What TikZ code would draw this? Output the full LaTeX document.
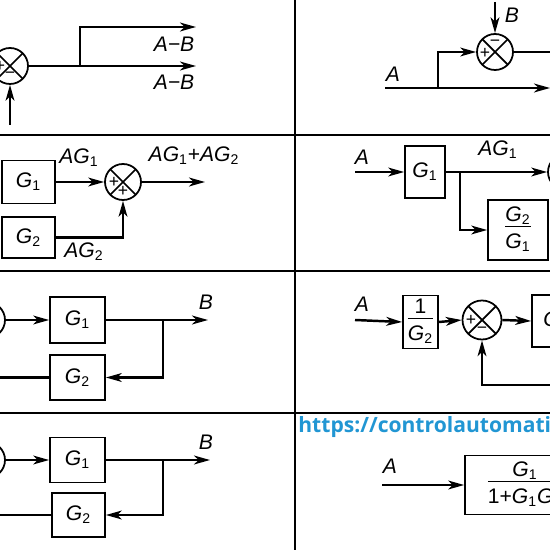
\documentclass[tikz,border=0pt]{standalone}
\usepackage{fontspec}
\setmainfont{Liberation Sans}
\newfontfamily\urlfont{Open Sans}
\usetikzlibrary{arrows.meta, positioning, calc}
\definecolor{URL_Blue}{HTML}{2196D3}

\newcommand{\Gs}[1]{\textit{G}\textsubscript{#1}}
\newcommand{\Ai}{\textit{A}}
\newcommand{\Bi}{\textit{B}}
\newcommand{\blkfrac}[2]{\begin{tabular}{@{}c@{}}#1\\[-1pt]\hline\rule{0pt}{12pt}#2\end{tabular}}

\tikzset{
  wire/.style={line width=1.4pt},
  sig/.style={wire, -{Stealth[length=9pt, width=5pt, inset=2.5pt]}},
  blockbox/.style={draw, line width=1pt, inner sep=1pt, font=\fontsize{12}{13}\selectfont},
  sumjunc/.style={draw, circle, line width=1pt, minimum size=0.72cm, inner sep=0pt,
    path picture={\draw[line width=1pt]
      (path picture bounding box.north west) -- (path picture bounding box.south east)
      (path picture bounding box.north east) -- (path picture bounding box.south west);}},
  lab/.style={font=\fontsize{12}{13}\selectfont, inner sep=1pt},
  sgn/.style={font=\fontsize{10}{10}\selectfont, inner sep=0pt},
  divider/.style={line width=1.1pt},
  urltext/.style={font=\fontsize{12}{14}\selectfont\urlfont\bfseries, text=URL_Blue, inner sep=0pt}
}

\begin{document}
\begin{tikzpicture}[x=0.02cm, y=-0.02cm]
    \useasboundingbox (0,0) rectangle (550,550);
    \clip (0,0) rectangle (550,550);

    % Panel borders
    \draw[divider] (295,0) -- (295,550);
    \draw[divider] (0,135) -- (550,135);
    \draw[divider] (0,271) -- (550,271);
    \draw[divider] (0,413) -- (550,413);

    % Take-off point after a summing point
    \node[sumjunc] (s1) at (10,66) {};
    \node[sgn] at ($(s1)+(-10,0)$) {+};
    \node[sgn] at ($(s1)+(0,9)$) {−};
    \coordinate (in1) at (10,125);
    \coordinate (b1) at (80,66);
    \coordinate (o1a) at (196,27);
    \coordinate (o1b) at (196,66);
    \draw[sig] (in1) -- (s1.south);
    \draw[wire] (s1.east) -- (b1);
    \draw[sig] (b1) -- (o1b);
    \draw[sig] (b1) |- (o1a);
    \node[lab] at (174,44) {\textit{A−B}};
    \node[lab] at (174,82) {\textit{A−B}};

    % Summing point moved after the take-off point
    \node[sumjunc] (s2) at (495,52) {};
    \node[sgn] at ($(s2)+(-10,1)$) {+};
    \node[sgn] at ($(s2)+(0,-9)$) {−};
    \coordinate (in2b) at (495,2);
    \coordinate (in2a) at (385,88);
    \coordinate (b2) at (438,88);
    \coordinate (o2a) at (550,88);
    \coordinate (o2b) at (550,52);
    \draw[sig] (in2b) -- (s2.north);
    \node[lab] at (512,15) {\Bi};
    \draw[sig] (in2a) -- (o2a);
    \draw[sig] (b2) |- (s2.west);
    \draw[wire] (s2.east) -- (o2b);
    \node[lab] at (393,74) {\Ai};

    % Parallel blocks
    \node[blockbox, minimum width=1.06cm, minimum height=0.86cm] (g31) at (28.5,182) {\Gs{1}};
    \node[blockbox, minimum width=1.06cm, minimum height=0.82cm] (g32) at (28.5,237.5) {\Gs{2}};
    \node[sumjunc] (s3) at (123,182) {};
    \node[sgn] at ($(s3)+(-9,0)$) {+};
    \node[sgn] at ($(s3)+(0,9)$) {+};
    \coordinate (o3) at (205,182);
    \draw[sig] (g31.east) -- (s3.west);
    \draw[sig] (g32.east) -| (s3.south);
    \draw[sig] (s3.east) -- (o3);
    \node[lab] at (79,158) {\textit{AG}\textsubscript{1}};
    \node[lab] at (84,252) {\textit{AG}\textsubscript{2}};
    \node[lab] at (194,156) {\textit{AG}\textsubscript{1}+\textit{AG}\textsubscript{2}};

    % Parallel blocks rearranged
    \coordinate (in4) at (355,172);
    \node[lab] at (362,157) {\Ai};
    \node[blockbox, minimum width=0.8cm, minimum height=1.04cm] (g41) at (425,172) {\Gs{1}};
    \node[sumjunc] (s4) at (566,172) {};
    \node[blockbox, minimum width=1.2cm, minimum height=1.2cm] (g42) at (518,230) {\blkfrac{\Gs{2}}{\Gs{1}}};
    \coordinate (b4) at (460,172);
    \draw[sig] (in4) -- (g41.west);
    \draw[sig] (g41.east) -- (s4.west);
    \draw[sig] (b4) |- (g42.west);
    \node[lab] at (498,150) {\textit{AG}\textsubscript{1}};

    % Feedback loop
    \node[sumjunc] (s5) at (-13,320) {};
    \node[blockbox, minimum width=1.1cm, minimum height=0.92cm] (g51) at (77.5,320) {\Gs{1}};
    \node[blockbox, minimum width=1.1cm, minimum height=0.9cm] (g52) at (77.5,377.5) {\Gs{2}};
    \coordinate (o5) at (208,320);
    \coordinate (b5) at (163,320);
    \coordinate (f5) at (0,377.5);
    \draw[sig] (s5.east) -- (g51.west);
    \draw[sig] (g51.east) -- (o5);
    \draw[sig] (b5) |- (g52.east);
    \draw[wire] (g52.west) -- (f5);
    \node[lab] at (206,302) {\Bi};

    % Feedback loop with unity feedback
    \coordinate (in6) at (355,320);
    \node[lab] at (362,304) {\Ai};
    \node[blockbox, minimum width=0.7cm, minimum height=1.04cm] (g61) at (420.5,322) {\blkfrac{1}{\Gs{2}}};
    \node[sumjunc, minimum size=0.78cm] (s6) at (482,320) {};
    \node[sgn] at ($(s6)+(-11,0)$) {+};
    \node[sgn] at ($(s6)+(0,10)$) {−};
    \node[blockbox, minimum width=0.96cm, minimum height=1.04cm] (g62) at (556,321) {\Gs{1}};
    \coordinate (f6) at (550,385);
    \draw[sig] (in6) -- (g61.west);
    \draw[sig] (g61.east) -- (s6.west);
    \draw[sig] (s6.east) -- (g62.west);
    \draw[sig] (f6) -| (s6.south);

    % Feedback loop again
    \node[sumjunc] (s7) at (-13,460) {};
    \node[blockbox, minimum width=1.1cm, minimum height=0.9cm] (g71) at (77.5,460) {\Gs{1}};
    \node[blockbox, minimum width=1.06cm, minimum height=0.88cm] (g72) at (78.5,515) {\Gs{2}};
    \coordinate (o7) at (210,460);
    \coordinate (b7) at (163,460);
    \coordinate (f7) at (0,515);
    \draw[sig] (s7.east) -- (g71.west);
    \draw[sig] (g71.east) -- (o7);
    \draw[sig] (b7) |- (g72.east);
    \draw[wire] (g72.west) -- (f7);
    \node[lab] at (206,442) {\Bi};

    % Closed loop equivalent
    \node[urltext, anchor=west] (url) at (298,427) {https://controlautomaticoeducacion.com};
    \coordinate (in8) at (382,485);
    \node[lab] at (390,466) {\Ai};
    \node[blockbox, minimum width=2.4cm, minimum height=1.18cm] (g8) at (525,485) {\blkfrac{\Gs{1}}{1+\Gs{1}\Gs{2}}};
    \draw[sig] (in8) -- (g8.west);
\end{tikzpicture}
\end{document}
